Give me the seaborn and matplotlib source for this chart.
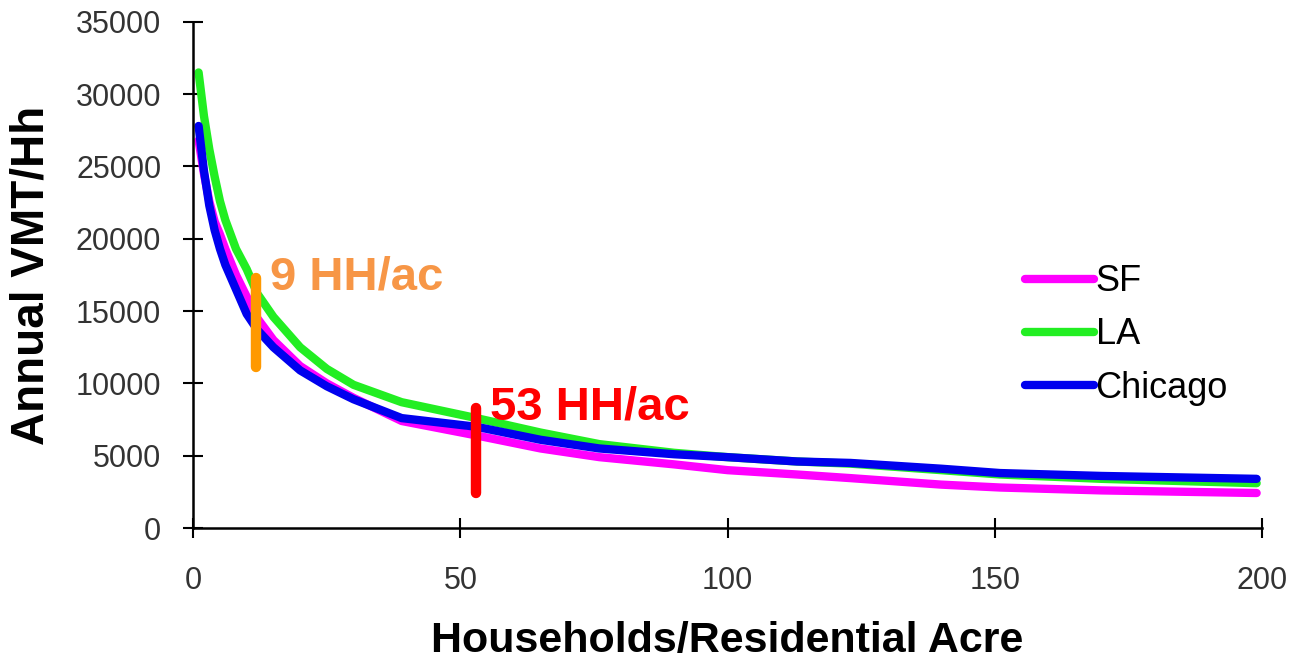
import matplotlib
matplotlib.use("Agg")
import matplotlib.pyplot as plt
import seaborn as sns
import pandas as pd

# ---- data ----
density = [1, 2, 3, 4, 5, 6, 8, 10, 12, 15, 20, 25, 30, 39, 53, 65, 76, 90, 100, 113, 123, 140, 151, 170, 199]
sf_vmt = [26800, 24500, 22600, 21200, 20300, 19300, 17500, 16000, 14500, 13000, 11200, 10000, 9000, 7400, 6400, 5500, 4900, 4400, 4000, 3700, 3450, 3000, 2800, 2600, 2420]
la_vmt = [31500, 28500, 26200, 24300, 22600, 21300, 19300, 17900, 16200, 14600, 12500, 11000, 9900, 8700, 7600, 6600, 5800, 5200, 4900, 4600, 4450, 4000, 3700, 3400, 3100]
chi_vmt = [27800, 24700, 22300, 20600, 19300, 18200, 16500, 14800, 13700, 12500, 10900, 9800, 8900, 7600, 7000, 6100, 5500, 5100, 4900, 4600, 4500, 4100, 3800, 3600, 3400]
cities = ["SF", "LA", "Chicago"]
city_colors = ["#FF00FF", "#22EE22", "#0000EE"]
ticks_x = [0, 50, 100, 150, 200]
ticks_y = [0, 5000, 10000, 15000, 20000, 25000, 30000, 35000]
markers_x = [11.8, 53]
markers_lo = [11100, 2400]
markers_hi = [17300, 8300]
marker_labels = ["9 HH/ac", "53 HH/ac"]
marker_colors = ["#FF9900", "#FF0000"]
label_colors = ["#F79646", "#FF0000"]

rows = []
for city, vals in zip(cities, [sf_vmt, la_vmt, chi_vmt]):
    for x, v in zip(density, vals):
        rows.append({"density": x, "vmt": v, "city": city})
df = pd.DataFrame(rows)

sns.set_theme(style="white")
plt.rcParams["font.family"] = ["Liberation Sans", "DejaVu Sans"]

fig = plt.figure(figsize=(12.97, 6.62), dpi=100)
ax = fig.add_axes([0.149, 0.2024, 0.824, 0.7646])

sns.lineplot(data=df, x="density", y="vmt", hue="city", hue_order=cities,
             palette=dict(zip(cities, city_colors)), linewidth=6, ax=ax,
             estimator=None, sort=True)

for mx, lo, hi, lab, mc, lc in zip(markers_x, markers_lo, markers_hi, marker_labels, marker_colors, label_colors):
    ax.plot([mx, mx], [lo, hi], color=mc, linewidth=7.5, solid_capstyle="round", zorder=5)
    ax.text(mx + 2.6, hi, lab, color=lc, fontsize=34, fontweight="bold",
            ha="left", va="center", zorder=6)

ax.set_xlim(0, 200)
ax.set_ylim(0, 35000)
ax.set_xticks(ticks_x)
ax.set_yticks(ticks_y)
ax.set_xticklabels([str(t) for t in ticks_x])
ax.set_yticklabels([str(t) for t in ticks_y])
ax.tick_params(axis="both", direction="inout", length=14, width=1.5, color="black",
               labelsize=22, labelcolor="#333333", left=True, bottom=True)
ax.tick_params(axis="x", pad=20)
ax.tick_params(axis="y", pad=16)

for s in ["top", "right"]:
    ax.spines[s].set_visible(False)
for s in ["left", "bottom"]:
    ax.spines[s].set_color("black")
    ax.spines[s].set_linewidth(1.8)

ax.set_xlabel("Households/Residential Acre", fontsize=31, fontweight="bold",
              color="black", labelpad=18)
ax.set_ylabel("Annual VMT/Hh", fontsize=33, fontweight="bold", color="black", labelpad=16)

leg = ax.legend(loc="upper left", bbox_to_anchor=(0.748, 0.585), frameon=False,
                fontsize=26, handlelength=1.9, handletextpad=0.05, labelspacing=0.5)
for line in leg.get_lines():
    line.set_linewidth(6)
for t in leg.get_texts():
    t.set_color("black")

fig.savefig("out.png", dpi=100)
